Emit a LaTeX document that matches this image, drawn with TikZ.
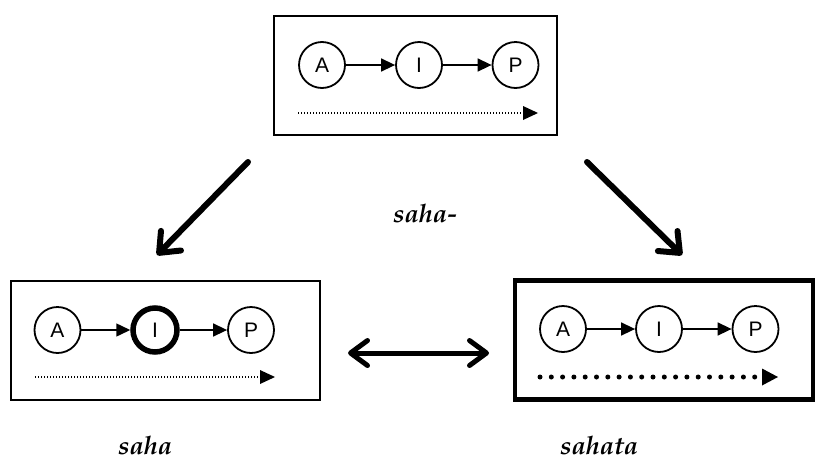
\documentclass[tikz,border=0pt]{standalone}
\usepackage{fontspec}
\setmainfont{Liberation Sans}
\newfontfamily\labelfont{TeX Gyre Pagella}
\usetikzlibrary{arrows.meta}

\tikzset{
  panel/.style={draw, rectangle, minimum width=#1, inner sep=0pt, minimum height=119pt},
  state/.style={draw, circle, line width=1.8pt, minimum size=46pt, inner sep=0pt,
                font=\fontsize{21pt}{21pt}\selectfont},
  link/.style={line width=1.5pt, -{Triangle[length=14pt,width=13pt]}},
  flow/.style={line width=1.3pt, dash pattern=on 1.3pt off 1.7pt,
               -{Triangle[length=15pt,width=14pt,line width=0pt]}},
  boldflow/.style={line width=5pt, line cap=round, dash pattern=on 0pt off 11.3pt,
               -{Triangle[length=16pt,width=17pt,line width=0pt]}},
  bigarrow/.style={line width=6pt, line cap=round,
               -{Straight Barb[length=17pt,width=28pt,line width=6pt,round]}},
  bothways/.style={line width=5pt, line cap=round,
               {Straight Barb[length=17pt,width=25pt,line width=5pt,round]}-{Straight Barb[length=17pt,width=25pt,line width=5pt,round]}},
  term/.style={anchor=base west, inner sep=0pt,
               font=\labelfont\bfseries\itshape\fontsize{25.5pt}{25.5pt}\selectfont}
}

\begin{document}
\begin{tikzpicture}[x=1pt, y=-1pt]
  \useasboundingbox (0,0) rectangle (818,461);

  % source panel
  \node[panel=283pt, line width=2pt] (top) at (415.5,75.5) {};
  \node[state] (tA) at (322,65) {A};
  \node[state] (tI) at (419,65) {I};
  \node[state] (tP) at (515.5,65) {P};
  \draw[link] (tA) -- (tI);
  \draw[link] (tI) -- (tP);
  \coordinate (tf0) at (298,113);
  \coordinate (tf1) at (538,113);
  \draw[flow] (tf0) -- (tf1);

  % saha panel: the I state is emphasised
  \node[panel=309pt, line width=1.5pt] (left) at (165.5,340.5) {};
  \node[state] (lA) at (57.5,330) {A};
  \node[state, line width=5.5pt, minimum size=44pt] (lI) at (155,330) {I};
  \node[state] (lP) at (251,330) {P};
  \draw[link] (lA) -- (lI);
  \draw[link] (lI) -- (lP);
  \coordinate (lf0) at (35,377);
  \coordinate (lf1) at (275,377);
  \draw[flow] (lf0) -- (lf1);

  % sahata panel: the whole process is emphasised
  \node[panel=298pt, line width=4.5pt] (right) at (664,340) {};
  \node[state] (rA) at (563,329) {A};
  \node[state] (rI) at (659,329) {I};
  \node[state] (rP) at (755.5,329) {P};
  \draw[link] (rA) -- (rI);
  \draw[link] (rI) -- (rP);
  \coordinate (rf0) at (540,377);
  \coordinate (rf1) at (778,377);
  \draw[boldflow] (rf0) -- (rf1);

  % derivation arrows
  \coordinate (la0) at (248,162);
  \coordinate (la1) at (157,255);
  \coordinate (ra0) at (587,162);
  \coordinate (ra1) at (682,255);
  \draw[bigarrow] (la0) -- (la1);
  \draw[bigarrow] (ra0) -- (ra1);
  \coordinate (da0) at (348,353);
  \coordinate (da1) at (489,353);
  \draw[bothways] (da0) -- (da1);

  % labels
  \node[term] (prefix) at (393,222) {saha-};
  \node[term] (saha) at (118,454) {saha};
  \node[term] (sahata) at (560,454) {sahata};
\end{tikzpicture}
\end{document}
